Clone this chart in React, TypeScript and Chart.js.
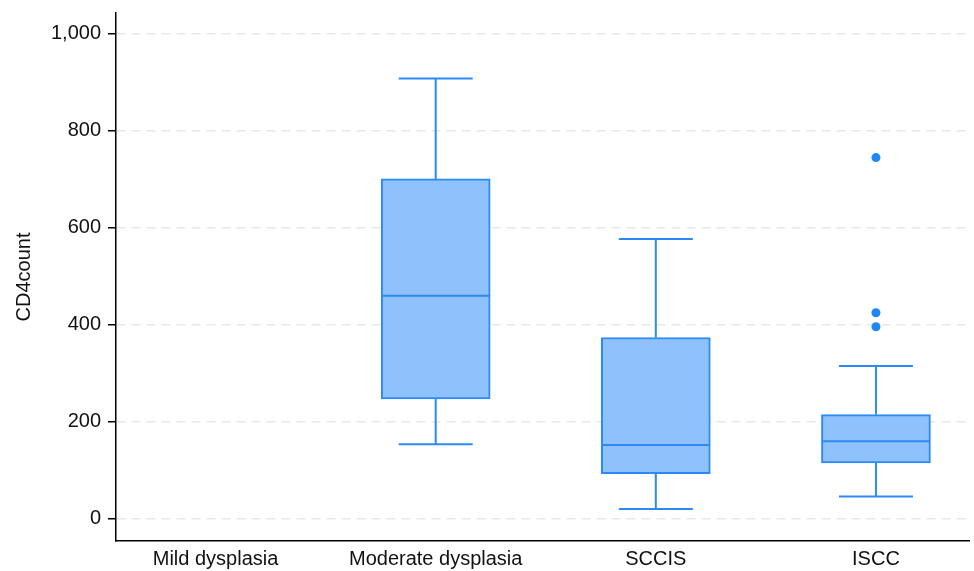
import React, { useEffect, useRef } from 'react';
import { Chart, registerables } from 'chart.js';

Chart.register(...registerables);

const categories = ['Mild dysplasia', 'Moderate dysplasia', 'SCCIS', 'ISCC'];
const whiskerLow: (number | null)[] = [null, 153, 19, 45];
const q1: (number | null)[] = [null, 246, 92, 114];
const median: (number | null)[] = [null, 459, 151, 159];
const q3: (number | null)[] = [null, 700, 373, 214];
const whiskerHigh: (number | null)[] = [null, 907, 576, 314];
const outlierCat = [3, 3, 3];
const outlierVal = [744, 424, 395];
const yTicks = [0, 200, 400, 600, 800, 1000];

const STROKE = '#2b8af6';
const FILL = '#8fc1fc';
const FONT = "'Liberation Sans', Arial, sans-serif";

const boxPlugin = {
  id: 'boxWhiskers',
  afterDatasetsDraw(chart: any) {
    const { ctx, scales, chartArea } = chart;
    const xs = scales.x;
    const ys = scales.y;
    const boxW = 109;
    const capW = 74;
    ctx.save();
    ctx.beginPath();
    ctx.rect(chartArea.left, chartArea.top, chartArea.right - chartArea.left, chartArea.bottom - chartArea.top);
    ctx.clip();
    ctx.strokeStyle = STROKE;
    ctx.lineCap = 'butt';
    for (let i = 0; i < categories.length; i++) {
      if (q1[i] == null) continue;
      const cx = xs.getPixelForValue(i);
      const pLo = ys.getPixelForValue(whiskerLow[i] as number);
      const pQ1 = ys.getPixelForValue(q1[i] as number);
      const pMed = ys.getPixelForValue(median[i] as number);
      const pQ3 = ys.getPixelForValue(q3[i] as number);
      const pHi = ys.getPixelForValue(whiskerHigh[i] as number);
      ctx.lineWidth = 2;
      ctx.beginPath();
      ctx.moveTo(cx, pQ3);
      ctx.lineTo(cx, pHi);
      ctx.moveTo(cx, pQ1);
      ctx.lineTo(cx, pLo);
      ctx.moveTo(cx - capW / 2, pHi);
      ctx.lineTo(cx + capW / 2, pHi);
      ctx.moveTo(cx - capW / 2, pLo);
      ctx.lineTo(cx + capW / 2, pLo);
      ctx.stroke();
      ctx.lineWidth = 2;
      ctx.beginPath();
      ctx.moveTo(cx - boxW / 2 + 1, pMed);
      ctx.lineTo(cx + boxW / 2 - 1, pMed);
      ctx.stroke();
    }
    ctx.restore();
  },
};

export default function App() {
  const ref = useRef<HTMLCanvasElement | null>(null);
  useEffect(() => {
    if (!ref.current) return;
    const boxData = categories
      .map((_, i) => (q1[i] == null ? null : { x: i, y: [q1[i], q3[i]] }))
      .filter((d) => d !== null);
    const outliers = outlierVal.map((v, i) => ({ x: outlierCat[i], y: v }));
    const chart = new Chart(ref.current, {
      type: 'bar',
      data: {
        datasets: [
          {
            type: 'bar',
            data: boxData as any,
            backgroundColor: FILL,
            borderColor: STROKE,
            borderWidth: 2,
            borderSkipped: false,
            barThickness: 109,
          } as any,
          {
            type: 'scatter',
            data: outliers,
            backgroundColor: '#1f87fc',
            borderColor: '#1f87fc',
            pointRadius: 4.5,
            borderWidth: 0,
          } as any,
        ],
      },
      options: {
        animation: false,
        responsive: false,
        layout: { padding: { top: 13, right: 0, left: 0, bottom: 0 } },
        plugins: { legend: { display: false }, tooltip: { enabled: false } },
        scales: {
          x: {
            type: 'linear',
            offset: false,
            min: -0.4523,
            max: 3.425,
            afterBuildTicks: (axis: any) => {
              axis.ticks = categories.map((_, i) => ({ value: i }));
            },
            afterFit: (scale: any) => {
              scale.height = 30;
              scale.paddingLeft = 0;
              scale.paddingRight = 0;
            },
            grid: { display: false, drawTicks: false, offset: false },
            border: { display: true, color: '#000', width: 1.5 },
            ticks: {
              autoSkip: false,
              maxRotation: 0,
              padding: 6,
              color: '#111',
              font: { family: FONT, size: 20 },
              callback: (v: any) => categories[v] ?? '',
            },
          },
          y: {
            type: 'linear',
            min: -46.8,
            max: 1042.2,
            afterBuildTicks: (axis: any) => {
              axis.ticks = yTicks.map((v) => ({ value: v }));
            },
            afterFit: (scale: any) => {
              scale.width = 116;
              scale.paddingTop = 0;
              scale.paddingBottom = 0;
            },
            grid: {
              color: '#e8e8e8',
              lineWidth: 1.5,
              drawTicks: true,
              tickLength: 8,
              tickColor: '#000',
              tickWidth: 1.5,
              tickBorderDash: [],
            },
            border: { display: true, color: '#000', width: 1.5, dash: [9, 6] },
            ticks: {
              padding: 7,
              color: '#111',
              font: { family: FONT, size: 20 },
              callback: (v: any) => Number(v).toLocaleString('en-US'),
            },
            title: {
              display: true,
              text: 'CD4count',
              color: '#111',
              font: { family: FONT, size: 20 },
              padding: { top: 12, bottom: 0 },
            },
          },
        },
      },
      plugins: [boxPlugin],
    });
    return () => chart.destroy();
  }, []);
  return (
    <div style={{ position: 'absolute', left: 0, top: 0, width: 974, height: 571 }}>
      <canvas ref={ref} width={974} height={571} />
    </div>
  );
}
